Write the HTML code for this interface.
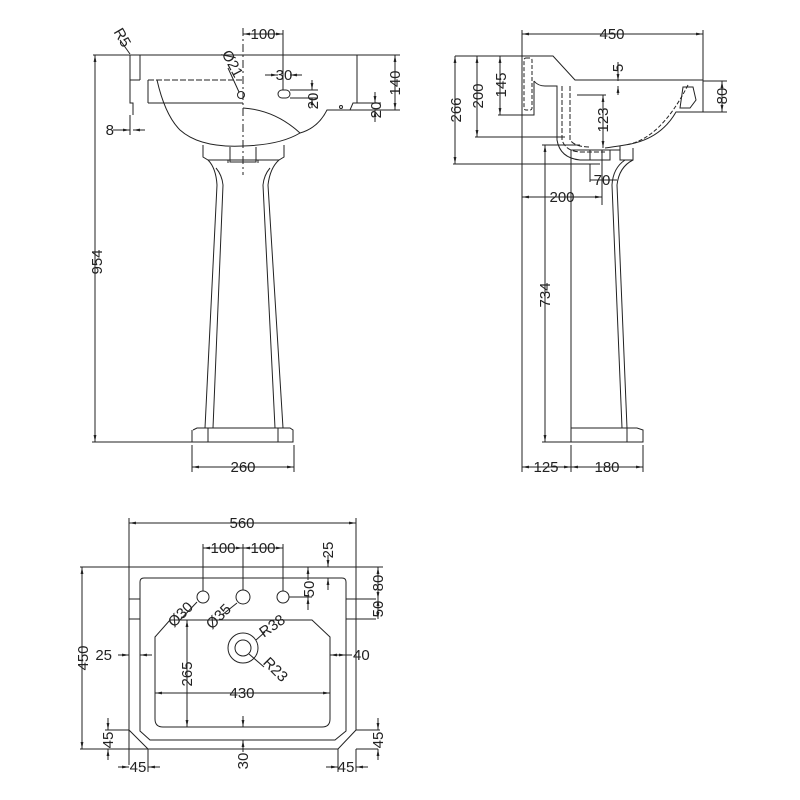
<!DOCTYPE html>
<html><head><meta charset="utf-8"><style>
html,body{margin:0;padding:0;background:#fff}
svg{display:block}
text{font-family:"Liberation Sans",sans-serif;font-size:15px;fill:#222}
</style></head><body>
<svg width="800" height="800" viewBox="0 0 800 800" xmlns="http://www.w3.org/2000/svg">
<defs>
<marker id="a" viewBox="0 0 10 10" refX="10" refY="5" markerWidth="7" markerHeight="7" orient="auto-start-reverse"><path d="M0,3 L10,5 L0,7z" fill="#222"/></marker>
</defs>
<g fill="none" stroke="#222" stroke-width="1">
<!-- ===== FRONT VIEW ===== -->
<line x1="93" y1="55" x2="400" y2="55"/>
<path d="M130,55 V103 H133 V115 M130,80 H140 M148,103 H243"/>
<path d="M140,55 V80 M148,80 V103"/>
<path d="M148,80 H243" stroke-dasharray="6,2"/>
<path d="M357,55 V103 H353 L350,110 H327 Q318,128 300,133 Q275,110 243,108"/>
<path d="M300,133 Q280,145 243,146 Q200,148 180,130 Q165,115 157,80"/>
<line x1="243" y1="28" x2="243" y2="175" stroke-dasharray="8,3,2,3"/>
<rect x="278" y="90" width="12" height="8" rx="4"/>
<circle cx="241" cy="95" r="3.5"/>
<circle cx="341" cy="107" r="1.5"/>
<!-- pedestal -->
<path d="M203,145 V157 L208,160 H279 L284,157 V145"/>
<path d="M230,147 V162 H256 V147 M228,160 V163 M258,160 V163"/>
<path d="M208,160 Q216,168 217,185 L205,428 M279,160 Q270,168 268,185 L283,428"/>
<path d="M216,168 Q222,175 223,185 L213,428 M270,168 Q264,175 263,185 L275,428"/>
<path d="M193,430 L197,428 H290 L293,430 V442 H192 V430 M208,428 V442 M278,428 V442"/>
<!-- dims front -->
<line x1="95" y1="55" x2="95" y2="442" marker-start="url(#a)" marker-end="url(#a)"/>
<line x1="92" y1="442" x2="192" y2="442"/>
<line x1="192" y1="445" x2="192" y2="472"/><line x1="294" y1="445" x2="294" y2="472"/>
<line x1="192" y1="467" x2="294" y2="467" marker-start="url(#a)" marker-end="url(#a)"/>
<line x1="283" y1="30" x2="283" y2="90"/>
<line x1="243" y1="34" x2="283" y2="34" marker-start="url(#a)" marker-end="url(#a)"/>
<line x1="265" y1="75" x2="278" y2="75" marker-end="url(#a)"/><line x1="302" y1="75" x2="290" y2="75" marker-end="url(#a)"/>
<line x1="290" y1="90" x2="318" y2="90"/><line x1="290" y1="98" x2="318" y2="98"/>
<line x1="312" y1="80" x2="312" y2="90" marker-end="url(#a)"/><line x1="312" y1="108" x2="312" y2="98" marker-end="url(#a)"/>
<line x1="353" y1="103" x2="381" y2="103"/><line x1="350" y1="110" x2="400" y2="110"/>
<line x1="375" y1="92" x2="375" y2="103" marker-end="url(#a)"/><line x1="375" y1="122" x2="375" y2="110" marker-end="url(#a)"/>
<line x1="395" y1="55" x2="395" y2="110" marker-start="url(#a)" marker-end="url(#a)"/>
<line x1="113" y1="130" x2="130" y2="130" marker-end="url(#a)"/><line x1="145" y1="130" x2="133" y2="130" marker-end="url(#a)"/>
<line x1="130" y1="115" x2="130" y2="135"/>
<line x1="120" y1="40" x2="130" y2="54"/>
<line x1="228" y1="68" x2="239" y2="92"/>
<!-- ===== SIDE VIEW ===== -->
<line x1="522" y1="30" x2="522" y2="472"/>
<line x1="703" y1="30" x2="703" y2="112"/>
<line x1="522" y1="34" x2="703" y2="34" marker-start="url(#a)" marker-end="url(#a)"/>
<path d="M522,56 H553 L575,80 H703 M534,81 V115 H522"/>
<rect x="524" y="58" width="8" height="52" rx="2" stroke-dasharray="4,2"/>
<path d="M534,81 Q538,86 545,86 H557 V140 Q560,158 580,160 H605"/>
<path d="M562,86 V140 Q566,152 582,152 H605 M570,86 V140 Q575,147 590,147" stroke-dasharray="5,2"/>
<path d="M703,112 H676 Q660,140 625,145 Q612,147 605,148"/>
<path d="M683,87 H693 L696,100 L690,108 H680 Z" />
<path d="M688,85 Q660,140 625,145" stroke-dasharray="4,2"/>
<path d="M571,150 H620 M590,150 V160 H610 V150 M620,146 V160 H633 V148"/>
<path d="M633,160 Q619,167 617,185 L627,428 M625,160 Q613,168 612,185 L622,428"/>
<path d="M571,150 V442 H643 V430 L637,428 H571 M627,428 V442"/>
<!-- dims side -->
<line x1="455" y1="56" x2="522" y2="56"/>
<line x1="455" y1="56" x2="455" y2="164" marker-start="url(#a)" marker-end="url(#a)"/>
<line x1="453" y1="164" x2="600" y2="164"/>
<line x1="477" y1="56" x2="477" y2="137" marker-start="url(#a)" marker-end="url(#a)"/>
<line x1="475" y1="137" x2="565" y2="137"/>
<line x1="500" y1="56" x2="500" y2="115" marker-start="url(#a)" marker-end="url(#a)"/>
<line x1="498" y1="115" x2="522" y2="115"/>
<line x1="703" y1="81" x2="727" y2="81"/><line x1="703" y1="112" x2="727" y2="112"/>
<line x1="722" y1="81" x2="722" y2="112" marker-start="url(#a)" marker-end="url(#a)"/>
<line x1="618" y1="62" x2="618" y2="81" marker-end="url(#a)"/><line x1="618" y1="95" x2="618" y2="86" marker-end="url(#a)"/>
<line x1="577" y1="95" x2="606" y2="95"/>
<line x1="603" y1="95" x2="603" y2="148" marker-start="url(#a)" marker-end="url(#a)"/>
<line x1="545" y1="145" x2="545" y2="442" marker-start="url(#a)" marker-end="url(#a)"/>
<line x1="542" y1="145" x2="580" y2="145"/><line x1="542" y1="442" x2="571" y2="442"/>
<line x1="602" y1="150" x2="602" y2="205"/>
<line x1="522" y1="197" x2="602" y2="197" marker-start="url(#a)" marker-end="url(#a)"/>
<line x1="590" y1="164" x2="590" y2="182"/>
<line x1="590" y1="180" x2="617" y2="180"/>
<line x1="571" y1="445" x2="571" y2="472"/><line x1="643" y1="445" x2="643" y2="472"/>
<line x1="522" y1="467" x2="571" y2="467" marker-start="url(#a)" marker-end="url(#a)"/>
<line x1="571" y1="467" x2="643" y2="467" marker-start="url(#a)" marker-end="url(#a)"/>
<!-- ===== PLAN VIEW ===== -->
<line x1="129" y1="518" x2="129" y2="765"/><line x1="356" y1="518" x2="356" y2="567"/>
<line x1="129" y1="523" x2="356" y2="523" marker-start="url(#a)" marker-end="url(#a)"/>
<line x1="80" y1="567" x2="383" y2="567"/>
<path d="M356,567 V730 L338,749 H148 L129,730"/>
<path d="M144,578 H342 Q346,578 346,582 V731 L335,740 H150 L140,731 V582 Q140,578 144,578 Z"/>
<path d="M170,620 H312 L330,637 V719 Q330,727 322,727 H163 Q155,727 155,719 V637 Z"/>
<path d="M129,599 H140 M129,619 H140 M346,599 H376 M346,619 H376"/>
<circle cx="203" cy="597" r="6"/><circle cx="243" cy="597" r="7"/><circle cx="283" cy="597" r="6"/>
<circle cx="243" cy="648" r="15"/><circle cx="243" cy="648" r="8"/>
<!-- plan dims -->
<line x1="203" y1="544" x2="203" y2="591"/><line x1="243" y1="544" x2="243" y2="590"/><line x1="283" y1="544" x2="283" y2="591"/>
<line x1="203" y1="548" x2="243" y2="548" marker-start="url(#a)" marker-end="url(#a)"/>
<line x1="243" y1="548" x2="283" y2="548" marker-start="url(#a)" marker-end="url(#a)"/>
<line x1="328" y1="555" x2="328" y2="567" marker-end="url(#a)"/><line x1="328" y1="590" x2="328" y2="578" marker-end="url(#a)"/>
<line x1="289" y1="597" x2="312" y2="597"/>
<line x1="308" y1="580" x2="308" y2="567" marker-end="url(#a)"/><line x1="308" y1="610" x2="308" y2="597" marker-end="url(#a)"/>
<line x1="378" y1="567" x2="378" y2="599" marker-start="url(#a)" marker-end="url(#a)"/>
<line x1="378" y1="599" x2="378" y2="619" marker-start="url(#a)" marker-end="url(#a)"/>
<line x1="82" y1="567" x2="82" y2="749" marker-start="url(#a)" marker-end="url(#a)"/>
<line x1="80" y1="749" x2="148" y2="749"/>
<line x1="118" y1="655" x2="129" y2="655" marker-end="url(#a)"/><line x1="152" y1="655" x2="140" y2="655" marker-end="url(#a)"/>
<line x1="335" y1="655" x2="346" y2="655" marker-end="url(#a)"/><line x1="352" y1="655" x2="330" y2="655" marker-end="url(#a)"/>
<line x1="187" y1="620" x2="187" y2="727" marker-start="url(#a)" marker-end="url(#a)"/>
<line x1="155" y1="693" x2="330" y2="693" marker-start="url(#a)" marker-end="url(#a)"/>
<line x1="243" y1="716" x2="243" y2="727" marker-end="url(#a)"/><line x1="243" y1="752" x2="243" y2="740" marker-end="url(#a)"/>
<line x1="105" y1="730" x2="129" y2="730"/><line x1="356" y1="730" x2="380" y2="730"/>
<line x1="378" y1="749" x2="356" y2="749"/>
<line x1="108" y1="718" x2="108" y2="730" marker-end="url(#a)"/><line x1="108" y1="760" x2="108" y2="749" marker-end="url(#a)"/>
<line x1="378" y1="718" x2="378" y2="730" marker-end="url(#a)"/><line x1="378" y1="760" x2="378" y2="749" marker-end="url(#a)"/>
<line x1="148" y1="749" x2="148" y2="772"/><line x1="338" y1="749" x2="338" y2="772"/><line x1="356" y1="749" x2="356" y2="772"/>
<line x1="118" y1="767" x2="129" y2="767" marker-end="url(#a)"/><line x1="160" y1="767" x2="148" y2="767" marker-end="url(#a)"/>
<line x1="326" y1="767" x2="338" y2="767" marker-end="url(#a)"/><line x1="368" y1="767" x2="356" y2="767" marker-end="url(#a)"/>
<line x1="197" y1="602" x2="180" y2="620"/><line x1="237" y1="603" x2="222" y2="615"/>
<line x1="256" y1="640" x2="265" y2="632"/><line x1="249" y1="654" x2="264" y2="667"/>
</g>
<g>
<text transform="translate(102,262) rotate(-90)" text-anchor="middle">954</text>
<text x="243" y="472" text-anchor="middle">260</text>
<text x="263" y="39" text-anchor="middle">100</text>
<text x="284" y="80" text-anchor="middle">30</text>
<text transform="translate(318,101) rotate(-90)" text-anchor="middle">20</text>
<text transform="translate(381,110) rotate(-90)" text-anchor="middle">20</text>
<text transform="translate(400,83) rotate(-90)" text-anchor="middle">140</text>
<text x="114" y="135" text-anchor="end">8</text>
<text transform="translate(118,40) rotate(60)" text-anchor="middle">R5</text>
<text transform="translate(228,66) rotate(62)" text-anchor="middle">Ø21</text>
<text x="612" y="39" text-anchor="middle">450</text>
<text transform="translate(461,110) rotate(-90)" text-anchor="middle">266</text>
<text transform="translate(483,96) rotate(-90)" text-anchor="middle">200</text>
<text transform="translate(506,85) rotate(-90)" text-anchor="middle">145</text>
<text transform="translate(727,96) rotate(-90)" text-anchor="middle">80</text>
<text transform="translate(623,68) rotate(-90)" text-anchor="middle">5</text>
<text transform="translate(608,120) rotate(-90)" text-anchor="middle">123</text>
<text transform="translate(550,295) rotate(-90)" text-anchor="middle">734</text>
<text x="562" y="202" text-anchor="middle">200</text>
<text x="602" y="185" text-anchor="middle">70</text>
<text x="546" y="472" text-anchor="middle">125</text>
<text x="607" y="472" text-anchor="middle">180</text>
<text x="242" y="528" text-anchor="middle">560</text>
<text x="223" y="553" text-anchor="middle">100</text>
<text x="263" y="553" text-anchor="middle">100</text>
<text transform="translate(333,550) rotate(-90)" text-anchor="middle">25</text>
<text transform="translate(314,589) rotate(-90)" text-anchor="middle">50</text>
<text transform="translate(383,583) rotate(-90)" text-anchor="middle">80</text>
<text transform="translate(383,609) rotate(-90)" text-anchor="middle">50</text>
<text transform="translate(88,658) rotate(-90)" text-anchor="middle">450</text>
<text x="112" y="660" text-anchor="end">25</text>
<text x="353" y="660">40</text>
<text transform="translate(192,674) rotate(-90)" text-anchor="middle">265</text>
<text x="242" y="698" text-anchor="middle">430</text>
<text transform="translate(248,761) rotate(-90)" text-anchor="middle">30</text>
<text transform="translate(113,740) rotate(-90)" text-anchor="middle">45</text>
<text transform="translate(383,740) rotate(-90)" text-anchor="middle">45</text>
<text x="138" y="772" text-anchor="middle">45</text>
<text x="346" y="772" text-anchor="middle">45</text>
<text transform="translate(184,618) rotate(-45)" text-anchor="middle">Ø30</text>
<text transform="translate(222,620) rotate(-45)" text-anchor="middle">Ø35</text>
<text transform="translate(275,630) rotate(-35)" text-anchor="middle">R38</text>
<text transform="translate(272,673) rotate(45)" text-anchor="middle">R23</text>
</g>
</svg>
</body></html>
